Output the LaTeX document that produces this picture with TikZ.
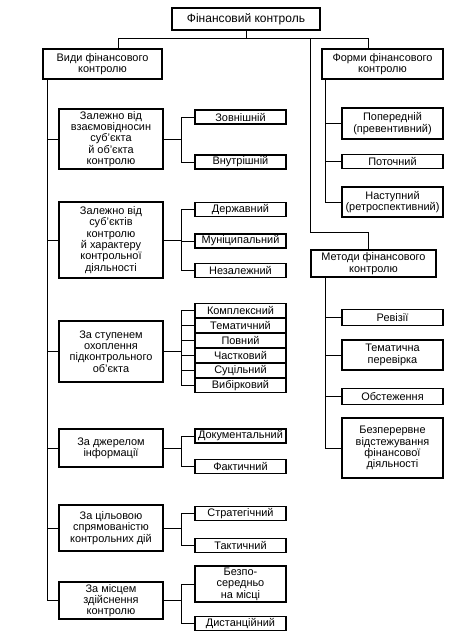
\documentclass[tikz,border=0pt]{standalone}
\usepackage{fontspec}
\setmainfont{Liberation Sans}

\begin{document}
\begin{tikzpicture}[x=0.75pt,y=-0.75pt]
        \tikzstyle{blok}=[rectangle,draw,line width=1pt,align=center,inner sep=1pt,font=\fontsize{8.2}{8.5}\selectfont]
        \tikzstyle{kind}=[blok,minimum width=78pt]
        \tikzstyle{leaf}=[blok,minimum width=68.25pt,minimum height=10.5pt]
        \tikzstyle{rleaf}=[blok,minimum width=75.75pt,minimum height=10.5pt]
        \tikzstyle{every path}=[line width=0.65pt]
        \useasboundingbox (0,0) rectangle (469,644);
        % top level
        \node[blok,minimum width=111pt,minimum height=16.5pt,font=\fontsize{9}{10}\selectfont] (fin) at (246,19) {Фінансовий контроль};
        \node[blok,minimum width=89.25pt,minimum height=22.5pt] (vydy) at (102.5,64) {Види фінансового\\контролю};
        \node[blok,minimum width=90.75pt,minimum height=22.5pt] (formy) at (382.5,64) {Форми фінансового\\контролю};
        \node[blok,minimum width=93.75pt,minimum height=20.25pt] (metody) at (373.5,263.5) {Методи фінансового\\контролю};
        % kinds
        \node[kind,minimum height=45pt] (k1) at (111,139) {Залежно від\\взаємовідносин\\суб’єкта\\й об’єкта\\контролю};
        \node[kind,minimum height=57pt] (k2) at (111,240) {Залежно від\\суб’єктів\\контролю\\й характеру\\контрольної\\діяльності};
        \node[kind,minimum height=45.75pt] (k3) at (111,351.5) {За ступенем\\охоплення\\підконтрольного\\об’єкта};
        \node[kind,minimum height=28.5pt] (k4) at (111,448) {За джерелом\\інформації};
        \node[kind,minimum height=34.5pt] (k5) at (111,528) {За цільовою\\спрямованістю\\контрольних дій};
        \node[kind,minimum height=27.75pt] (k6) at (111,600.5) {За місцем\\здійснення\\контролю};
        % leaves of kinds
        \node[leaf] (zovn) at (240.5,117) {Зовнішній};
        \node[leaf] (vnutr) at (240.5,162) {Внутрішній};
        \node[leaf] (derzh) at (240.5,209.5) {Державний};
        \node[leaf] (munic) at (240.5,241) {Муніципальний};
        \node[leaf] (nezal) at (240.5,270.5) {Незалежний};
        \node[leaf] (kompl) at (240.5,310.5) {Комплексний};
        \node[leaf] (temat) at (240.5,325.5) {Тематичний};
        \node[leaf] (povn) at (240.5,340.5) {Повний};
        \node[leaf] (chast) at (240.5,355.5) {Частковий};
        \node[leaf] (sutsil) at (240.5,370.5) {Суцільний};
        \node[leaf] (vybir) at (240.5,385.5) {Вибірковий};
        \node[leaf] (dokum) at (240.5,436) {Документальний};
        \node[leaf] (fakt) at (240.5,466.5) {Фактичний};
        \node[leaf] (strat) at (240.5,513.5) {Стратегічний};
        \node[leaf] (takt) at (240.5,545.5) {Тактичний};
        \node[leaf,minimum height=27pt] (bezpo) at (240.5,584) {Безпо-\\середньо\\на місці};
        \node[leaf] (dyst) at (240.5,623.5) {Дистанційний};
        % forms
        \node[rleaf,minimum height=23.25pt] (poper) at (392.5,123.5) {Попередній\\(превентивний)};
        \node[rleaf] (potoch) at (392.5,161.5) {Поточний};
        \node[rleaf,minimum height=22.5pt] (nastup) at (392.5,202) {Наступний\\(ретроспективний)};
        % methods
        \node[rleaf,minimum height=12pt] (reviz) at (392.5,317.5) {Ревізії};
        \node[rleaf,minimum height=22.5pt] (temper) at (392.5,355) {Тематична\\перевірка};
        \node[rleaf,minimum height=12pt] (obst) at (392.5,396.5) {Обстеження};
        \node[rleaf,minimum height=45pt] (bezper) at (392.5,448) {Безперервне\\відстежування\\фінансової\\діяльності};
        % top connectors
        \draw (fin.south) -- ++(0,8) coordinate (hub);
        \draw ([xshift=11.6pt]vydy.north) |- (hub) -| ([xshift=-10.9pt]formy.north);
        \coordinate (mturn) at (310,232);
        \draw (hub -| mturn) -- (mturn) -| ([xshift=-3.75pt]metody.north);
        % kinds bus
        \draw (vydy.south west) ++(5,0) coordinate (vbus) |- (k6.west);
        \foreach \k in {k1,k2,k3,k4,k5}
            \draw (\k.west) -- (\k.west -| vbus);
        % kinds to leaves
        \draw (k1.east) -- ++(18,0) coordinate (c1);
        \draw (zovn.west) -| (c1) |- (vnutr.west);
        \draw (k2.east) -- ++(18,0) coordinate (c2);
        \draw (derzh.west) -| (c2) |- (nezal.west);
        \draw (munic.west) -- (munic.west -| c2);
        \draw (k3.east) -- ++(18,0) coordinate (c3);
        \draw (kompl.west) -| (c3) |- (vybir.west);
        \foreach \l in {temat,povn,chast,sutsil}
            \draw (\l.west) -- (\l.west -| c3);
        \draw (k4.east) -- ++(18,0) coordinate (c4);
        \draw (dokum.west) -| (c4) |- (fakt.west);
        \draw (k5.east) -- ++(18,0) coordinate (c5);
        \draw (strat.west) -| (c5) |- (takt.west);
        \draw (k6.east) -- ++(18,0) coordinate (c6);
        \draw (bezpo.west) -| (c6) |- (dyst.west);
        % forms bus
        \draw (formy.south west) ++(4,0) coordinate (fbus) |- (nastup.west);
        \foreach \l in {poper,potoch}
            \draw (\l.west) -- (\l.west -| fbus);
        % methods bus
        \draw (metody.south west) ++(15,0) coordinate (mbus) |- (bezper.west);
        \foreach \l in {reviz,temper,obst}
            \draw (\l.west) -- (\l.west -| mbus);
\end{tikzpicture}
\end{document}
